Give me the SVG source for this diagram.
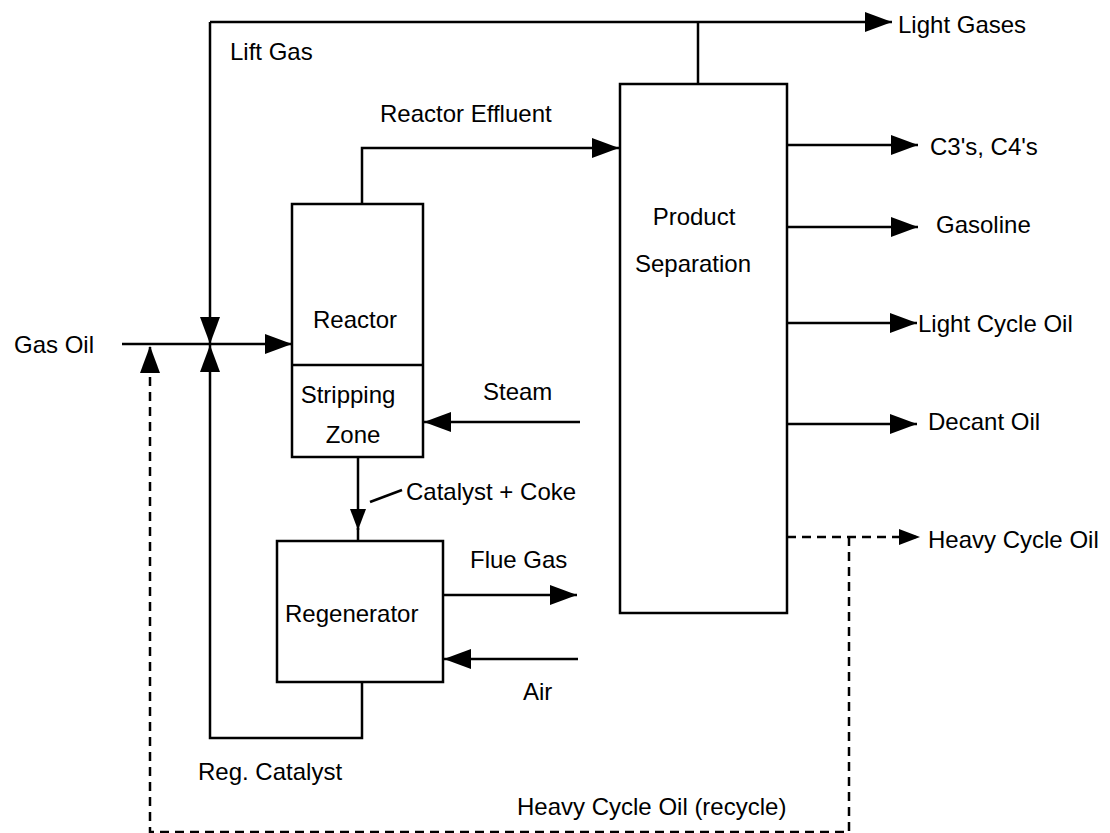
<svg xmlns="http://www.w3.org/2000/svg" width="1110" height="833" viewBox="0 0 1110 833">
<defs>
<marker id="ah" markerUnits="userSpaceOnUse" markerWidth="28" markerHeight="20" refX="27" refY="10" orient="auto"><path d="M0,0 L27,10 L0,20 z" fill="#000"/></marker>
<marker id="ahs" markerUnits="userSpaceOnUse" markerWidth="22" markerHeight="16" refX="21" refY="8" orient="auto"><path d="M0,0 L21,8 L0,16 z" fill="#000"/></marker>
<style>
.box{fill:#fff;stroke:#000;stroke-width:2.5}
.ln{fill:none;stroke:#000;stroke-width:2.5}
.ds{fill:none;stroke:#000;stroke-width:2.5;stroke-dasharray:9,6}
text{font-family:"Liberation Sans",Arial,sans-serif;font-size:24px;fill:#000}
.c{text-anchor:middle}
</style>
</defs>
<rect width="1110" height="833" fill="#fff"/>
<g id="connectors">
<path class="ln" d="M210,22 H892" marker-end="url(#ah)"/>
<path class="ln" d="M698,84 V22"/>
<path class="ln" d="M210,22 V344" marker-end="url(#ah)"/>
<path class="ln" d="M122,344 H292" marker-end="url(#ah)"/>
<path class="ln" d="M362,682 V738 H210 V345" marker-end="url(#ah)"/>
<path class="ds" d="M849,537 V832 H150 V346" marker-end="url(#ah)"/>
<path class="ln" d="M362,204 V148 H619" marker-end="url(#ah)"/>
<path class="ln" d="M787,145 H918" marker-end="url(#ah)"/>
<path class="ln" d="M787,227 H918" marker-end="url(#ah)"/>
<path class="ln" d="M787,323 H917" marker-end="url(#ah)"/>
<path class="ln" d="M787,424 H917" marker-end="url(#ah)"/>
<path class="ds" d="M787,537 H920" marker-end="url(#ahs)"/>
<path class="ln" d="M580,422 H424" marker-end="url(#ah)"/>
<path class="ln" d="M358,457 V530" marker-end="url(#ahs)"/>
<path class="ln" d="M358,528 V541"/>
<path class="ln" d="M370,502 L402,490"/>
<path class="ln" d="M443,595 H577" marker-end="url(#ah)"/>
<path class="ln" d="M578,659 H444" marker-end="url(#ah)"/>
</g>
<g id="reactor">
<rect class="box" x="292" y="204" width="131" height="253"/>
<path class="ln" d="M292,365 H423"/>
<text class="c" x="355" y="328">Reactor</text>
<text class="c" x="348" y="403">Stripping</text>
<text class="c" x="353" y="443">Zone</text>
</g>
<g id="regenerator">
<rect class="box" x="277" y="541" width="166" height="141"/>
<text x="285" y="622">Regenerator</text>
</g>
<g id="product-separation">
<rect class="box" x="620" y="84" width="167" height="529"/>
<text class="c" x="694" y="225">Product</text>
<text class="c" x="693" y="272">Separation</text>
</g>
<g id="labels">
<text x="230" y="60">Lift Gas</text>
<text x="898" y="33">Light Gases</text>
<text x="380" y="122">Reactor Effluent</text>
<text x="930" y="155">C3's, C4's</text>
<text x="936" y="233">Gasoline</text>
<text x="918" y="332">Light Cycle Oil</text>
<text x="928" y="430">Decant Oil</text>
<text x="928" y="548">Heavy Cycle Oil</text>
<text x="14" y="353">Gas Oil</text>
<text x="483" y="400">Steam</text>
<text x="406" y="500">Catalyst + Coke</text>
<text x="470" y="568">Flue Gas</text>
<text x="523" y="700">Air</text>
<text x="198" y="780">Reg. Catalyst</text>
<text x="517" y="815">Heavy Cycle Oil (recycle)</text>
</g>
</svg>
